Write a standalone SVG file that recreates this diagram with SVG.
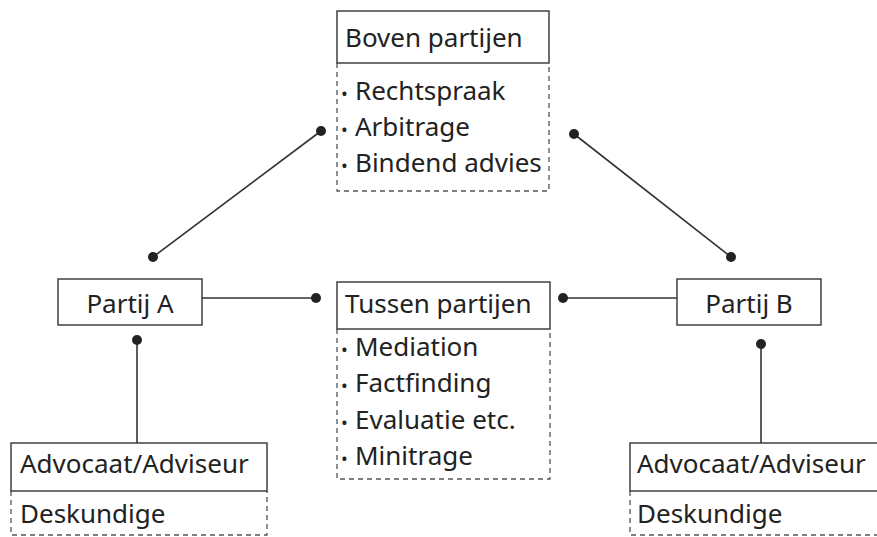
<svg xmlns="http://www.w3.org/2000/svg" width="877" height="537" viewBox="0 0 877 537">
<style>
.box{fill:#fff;stroke:#333;stroke-width:1.4}
.dash{fill:none;stroke:#555;stroke-width:1.3;stroke-dasharray:5 4}
.t{font-family:"Noto Sans","Open Sans",sans-serif;font-size:26px;fill:#222}
.b{font-size:18px}
.c{stroke:#333;stroke-width:1.6;fill:none}
.dot{fill:#222}
</style>
<rect width="877" height="537" fill="#fff"/>
<g id="connectors">
<line class="c" x1="321" y1="131" x2="153" y2="257"/>
<circle class="dot" cx="321" cy="131" r="5"/>
<circle class="dot" cx="153" cy="257" r="5"/>
<line class="c" x1="574" y1="134" x2="731" y2="257"/>
<circle class="dot" cx="574" cy="134" r="5"/>
<circle class="dot" cx="731" cy="257" r="5"/>
<line class="c" x1="202" y1="298" x2="316" y2="298"/>
<circle class="dot" cx="316" cy="298" r="5"/>
<line class="c" x1="563" y1="298" x2="677" y2="298"/>
<circle class="dot" cx="563" cy="298" r="5"/>
<line class="c" x1="137" y1="340" x2="137" y2="443"/>
<circle class="dot" cx="137" cy="340" r="5"/>
<line class="c" x1="761" y1="344" x2="761" y2="443"/>
<circle class="dot" cx="761" cy="344" r="5"/>
</g>
<g id="boven">
<path class="dash" d="M337 63V191H549V63"/>
<rect class="box" x="337" y="11" width="212" height="52"/>
<text class="t" x="345" y="47">Boven partijen</text>
<text class="t"><tspan class="b" x="341" y="100">•</tspan><tspan x="355" y="100">Rechtspraak</tspan></text>
<text class="t"><tspan class="b" x="341" y="136">•</tspan><tspan x="355" y="136">Arbitrage</tspan></text>
<text class="t"><tspan class="b" x="341" y="172">•</tspan><tspan x="355" y="172">Bindend advies</tspan></text>
</g>
<g id="partijA">
<rect class="box" x="58" y="279" width="144" height="46"/>
<text class="t" x="130" y="313" text-anchor="middle">Partij A</text>
</g>
<g id="tussen">
<path class="dash" d="M337 329V479H550V329"/>
<rect class="box" x="337" y="282" width="213" height="47"/>
<text class="t" x="345" y="313">Tussen partijen</text>
<text class="t"><tspan class="b" x="341" y="356">•</tspan><tspan x="355" y="356">Mediation</tspan></text>
<text class="t"><tspan class="b" x="341" y="392">•</tspan><tspan x="355" y="392">Factfinding</tspan></text>
<text class="t"><tspan class="b" x="341" y="429">•</tspan><tspan x="355" y="429">Evaluatie etc.</tspan></text>
<text class="t"><tspan class="b" x="341" y="465">•</tspan><tspan x="355" y="465">Minitrage</tspan></text>
</g>
<g id="partijB">
<rect class="box" x="677" y="279" width="144" height="46"/>
<text class="t" x="749" y="313" text-anchor="middle">Partij B</text>
</g>
<g id="advocaatA">
<path class="dash" d="M11 491V535H267V491"/>
<rect class="box" x="11" y="443" width="256" height="48"/>
<text class="t" x="20" y="473">Advocaat/Adviseur</text>
<text class="t" x="20" y="523">Deskundige</text>
</g>
<g id="advocaatB">
<path class="dash" d="M630 491V535H886"/>
<rect class="box" x="630" y="443" width="256" height="48"/>
<text class="t" x="637" y="473">Advocaat/Adviseur</text>
<text class="t" x="637" y="523">Deskundige</text>
</g>
</svg>
